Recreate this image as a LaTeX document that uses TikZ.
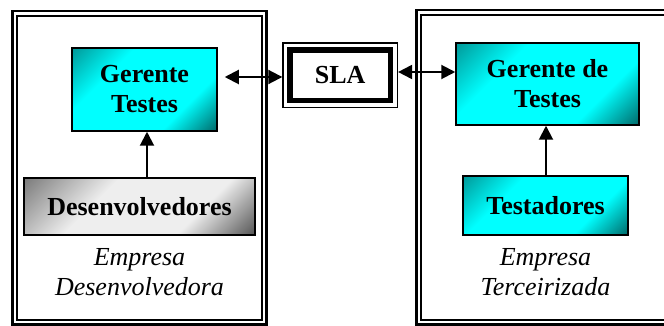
\documentclass[tikz,border=0pt]{standalone}
\usepackage{fontspec}
\setmainfont{Liberation Serif}
\usetikzlibrary{arrows.meta, positioning}

\definecolor{aqua}{RGB}{0,255,255}
\definecolor{deepteal}{RGB}{0,100,100}
\definecolor{midteal}{RGB}{0,150,150}
\definecolor{lightgrey}{RGB}{238,238,238}
\definecolor{midgrey}{RGB}{120,120,120}
\definecolor{deepgrey}{RGB}{80,80,80}

% diagonal fades, bright in the middle
\pgfdeclareverticalshading{cyanfade}{100bp}{color(0bp)=(deepteal); color(14bp)=(deepteal);
  color(32bp)=(aqua); color(66bp)=(aqua); color(86bp)=(midteal); color(100bp)=(midteal)}
\pgfdeclareverticalshading{greyfade}{100bp}{color(0bp)=(deepgrey); color(14bp)=(deepgrey);
  color(34bp)=(lightgrey); color(62bp)=(lightgrey); color(86bp)=(midgrey); color(100bp)=(midgrey)}

\begin{document}
\begin{tikzpicture}[
    x=1pt, y=-1pt,
    every node/.style={
      inner sep=0pt,
      align=center,
      font=\fontsize{26}{30}\selectfont
    },
    box/.style={draw, line width=1.5pt, font=\fontsize{26}{30}\selectfont\bfseries},
    cyanbox/.style={box, shading=cyanfade, shading angle=45},
    greybox/.style={box, shading=greyfade, shading angle=45},
    slabox/.style={
      draw, line width=1.3pt, fill=white,
      font=\fontsize{26}{30}\selectfont\bfseries,
      path picture={\draw[line width=5.5pt]
        ([shift={(7pt,-7pt)}]path picture bounding box.north west) rectangle
        ([shift={(-7pt,7pt)}]path picture bounding box.south east);}
    },
    caption/.style={font=\fontsize{26}{30}\selectfont\itshape},
    frame/.style={draw, double, line width=2.3pt, double distance=2.4pt},
    tip/.style={-{Triangle[length=14pt,width=14pt]}},
    both/.style={{Triangle[length=14pt,width=14pt]}-{Triangle[length=14pt,width=14pt]}},
    every edge/.style={draw, line width=2pt}
  ]
    \useasboundingbox (0,0) rectangle (664,326);
    \clip (0,0) rectangle (664,326);

    % company frames
    \draw[frame] (14.7,13.5) rectangle (264.2,322);
    \draw[frame] (418.7,12.5) rectangle (700,322);

    % left side
    \node[cyanbox, minimum width=145pt, minimum height=83pt] (gtl) at (144.5,89.5) {Gerente\\Testes};
    \node[greybox, minimum width=231pt, minimum height=57pt] (dev) at (139.5,206.5) {Desenvolvedores};
    \node[caption] (empl) [below=13pt of dev] {Empresa\\Desenvolvedora};

    % contract
    \node[slabox, minimum width=114.5pt, minimum height=64.5pt] (sla) at (340.2,75.2) {SLA};

    % right side
    \node[cyanbox, minimum width=183pt, minimum height=82pt] (gtr) at (547.5,84) {Gerente de\\Testes};
    \node[cyanbox, minimum width=165pt, minimum height=59pt] (tst) at (545.5,205.5) {Testadores};
    \node[caption] (empr) [below=13pt of tst] {Empresa\\Terceirizada};

    \draw ([xshift=7.5pt]dev.north) edge[tip] ([xshift=2.5pt]gtl.south)
          ([xshift=0.5pt]tst.north) edge[tip] ([xshift=-1.5pt]gtr.south)
          ([xshift=7pt,yshift=12.5pt]gtl.east) edge[both] ([yshift=-1.8pt]sla.west)
          ([yshift=3.2pt]sla.east) edge[both] ([yshift=12pt]gtr.west);
  \end{tikzpicture}
\end{document}
